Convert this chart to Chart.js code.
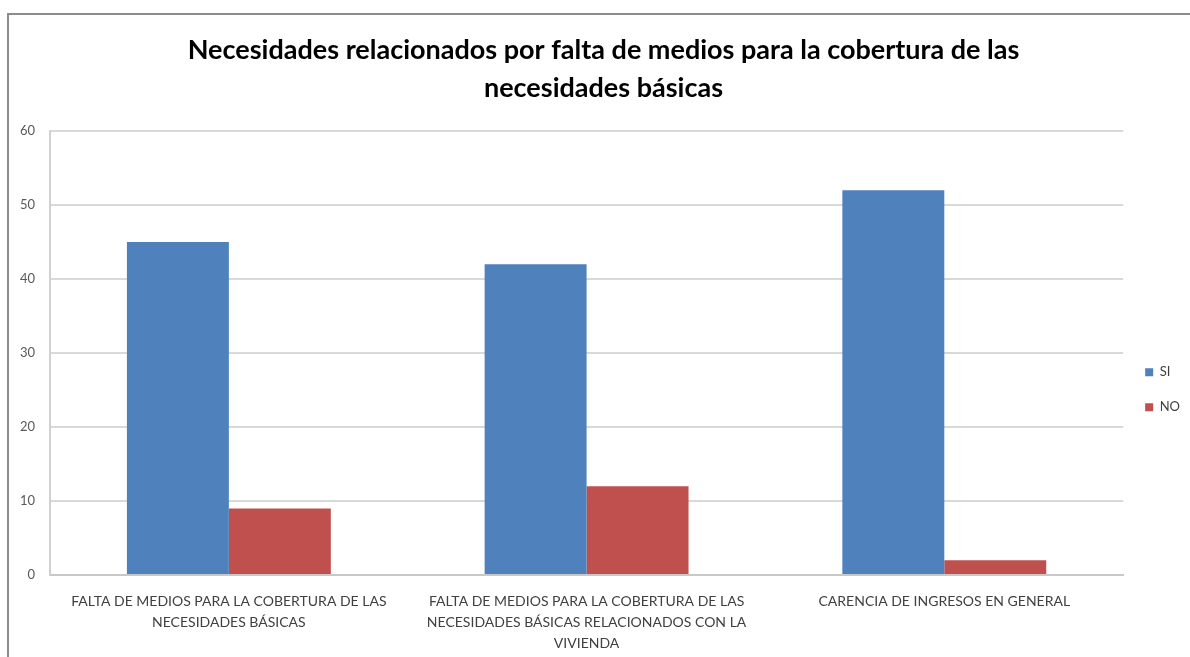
<!DOCTYPE html>
<html>
<head>
<meta charset="utf-8">
<script src="https://cdn.jsdelivr.net/npm/chart.js@4.4.0/dist/chart.umd.min.js"></script>
<style>
    html, body { margin: 0; padding: 0; background: #fff; }
    #wrap { position: absolute; left: 0; top: 0; width: 1190px; height: 657px; }
    #frame {
        position: absolute; left: 7px; top: 13px; right: 0; bottom: 0;
        border-top: 2px solid #8c8c8c; border-left: 2px solid #8c8c8c;
        pointer-events: none;
    }
</style>
</head>
<body>
<div id="wrap">
    <canvas id="needsChart" width="1190" height="657"></canvas>
    <div id="frame"></div>
</div>
<script>
const categories = [
    ['FALTA DE MEDIOS PARA LA COBERTURA DE LAS', 'NECESIDADES BÁSICAS'],
    ['FALTA DE MEDIOS PARA LA COBERTURA DE LAS', 'NECESIDADES BÁSICAS RELACIONADOS CON LA', 'VIVIENDA'],
    'CARENCIA DE INGRESOS EN GENERAL'
];
const siValues = [45, 42, 52];
const noValues = [9, 12, 2];
const yTicks = [0, 10, 20, 30, 40, 50, 60];

document.addEventListener('DOMContentLoaded', function () {
    const canvas = document.getElementById('needsChart');
    const ctx = canvas.getContext('2d');

    new Chart(ctx, {
        type: 'bar',
        data: {
            labels: categories,
            datasets: [{
                label: 'SI',
                data: siValues,
                backgroundColor: '#4f81bd',
                borderWidth: 0
            }, {
                label: 'NO',
                data: noValues,
                backgroundColor: '#c0504d',
                borderWidth: 0
            }]
        },
        options: {
            responsive: false,
            animation: false,
            layout: {
                padding: { left: 17, right: 0, top: 0, bottom: 0 }
            },
            datasets: {
                bar: {
                    categoryPercentage: 0.57,
                    barPercentage: 1
                }
            },
            scales: {
                x: {
                    grid: { display: false },
                    border: { display: true, color: '#c8c8c8', width: 2 },
                    afterFit: function (scale) {
                        scale.height = 82;
                    },
                    ticks: {
                        color: '#404040',
                        font: { family: 'Lato', size: 14, lineHeight: 1.5 },
                        padding: 8,
                        maxRotation: 0,
                        autoSkip: false
                    }
                },
                y: {
                    min: 0,
                    max: 60,
                    afterBuildTicks: function (scale) {
                        scale.ticks = yTicks.map(v => ({ value: v }));
                    },
                    afterFit: function (scale) {
                        scale.width = 33;
                    },
                    grid: { color: '#d9d9d9', lineWidth: 2, drawTicks: false },
                    border: { display: true, color: '#d0d0d0', width: 2 },
                    ticks: {
                        color: '#595959',
                        font: { family: 'Lato', size: 13 },
                        padding: 15
                    }
                }
            },
            plugins: {
                title: {
                    display: true,
                    text: ['Necesidades relacionados por falta de medios para la cobertura de las', 'necesidades básicas'],
                    color: '#000',
                    font: { family: 'Lato', size: 27, weight: 'bold', lineHeight: 1.41 },
                    padding: { top: 31, bottom: 24 }
                },
                legend: {
                    position: 'right',
                    title: {
                        // empty title only pushes the items down
                        display: true,
                        text: '',
                        font: { size: 12 },
                        padding: { top: 108, bottom: 0 }
                    },
                    labels: {
                        boxWidth: 8,
                        boxHeight: 8,
                        color: '#404040',
                        font: { family: 'Lato', size: 13 },
                        padding: 22
                    }
                },
                tooltip: { enabled: false }
            }
        }
    });
});
</script>
</body>
</html>
